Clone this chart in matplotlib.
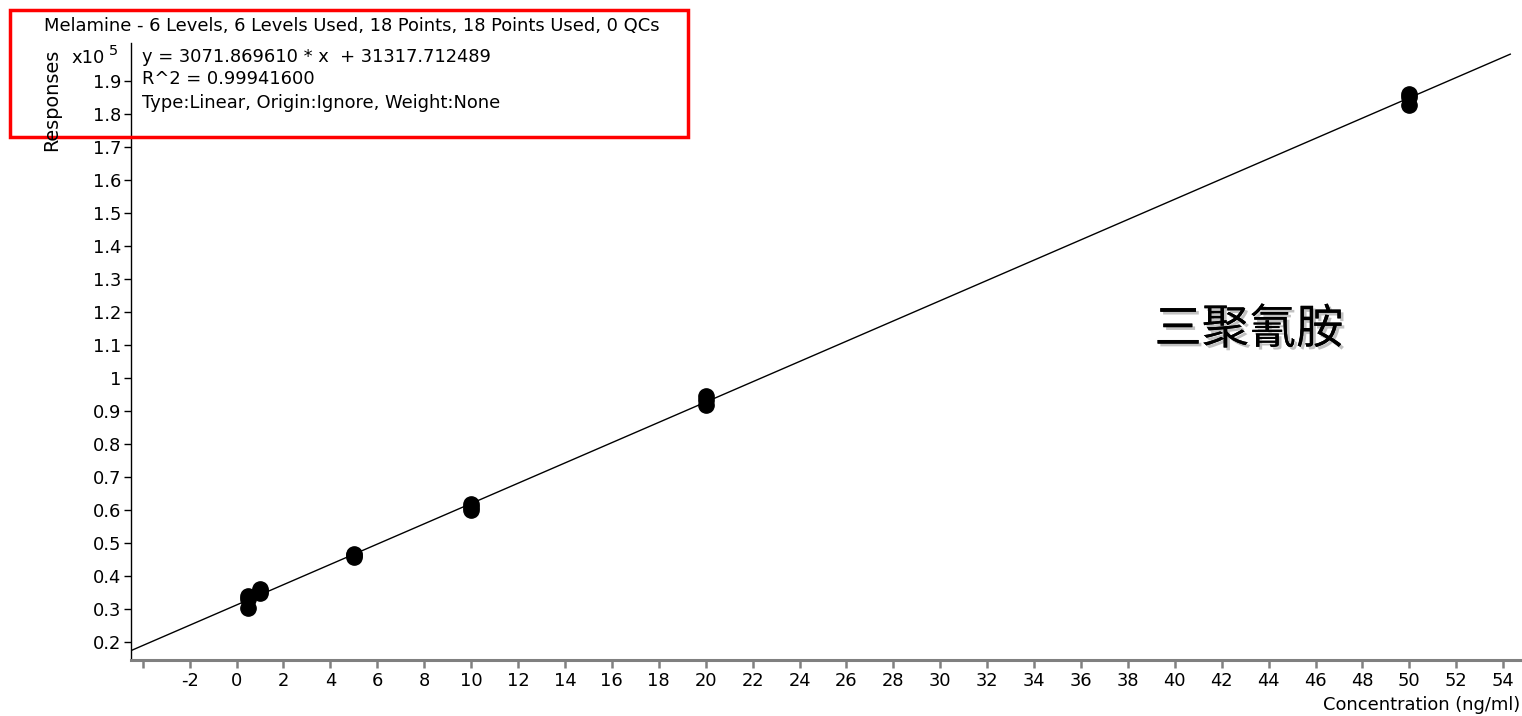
import numpy as np
import matplotlib
matplotlib.use('Agg')
import matplotlib.pyplot as plt
import matplotlib.patheffects as pe
from matplotlib.patches import Rectangle
from matplotlib.ticker import FuncFormatter

# dati (concentrazione in ng/ml, risposta)
conc = [0.5, 0.5, 0.5, 1, 1, 1, 5, 5, 5, 10, 10, 10, 20, 20, 20, 50, 50, 50]
resp = [30500, 33200, 33900, 35000, 35500, 36000,
        45800, 46300, 46700, 60000, 61000, 61800,
        91900, 93500, 94500, 182800, 185200, 186000]

slope = 3071.869610
intercept = 31317.712489
r2 = 0.99941600

x_ticks = list(range(-4, 55, 2))
y_ticks = [v / 10 * 1e5 for v in range(2, 20)]

W, H = 1522, 716
fs = 12.9
plt.rcParams['font.family'] = ['DejaVu Sans']
fig = plt.figure(figsize=(W / 100, H / 100), dpi=100)

ax = fig.add_axes([131 / W, 1 - 659.5 / H, (W - 131) / W, (659.5 - 43) / H])
ax.set_xlim(-4.5, 54.8)
ax.set_ylim(0.148e5, 2.015e5)

# retta di calibrazione
xl = np.array([-4.5, 54.3])
ax.plot(xl, slope * xl + intercept, color='black', lw=1)
ax.plot(conc, resp, 'o', color='black', ms=11, clip_on=False)

ax.set_xticks(x_ticks)
ax.set_xticklabels(['' if t == -4 else str(t) for t in x_ticks])
ax.set_yticks(y_ticks)
ax.yaxis.set_major_formatter(FuncFormatter(lambda v, p: f'{v / 1e5:g}'))

for s in ['top', 'right']:
    ax.spines[s].set_visible(False)
ax.spines['left'].set_linewidth(1)
ax.spines['bottom'].set_color('#808080')
ax.spines['bottom'].set_linewidth(2.2)
ax.tick_params(axis='x', colors='#808080', labelcolor='black', length=6, width=1.8,
               labelsize=fs, pad=3)
ax.tick_params(axis='y', length=5, width=1, labelsize=fs, pad=2)

def fx(px):
    return px / W

def fy(py):
    return 1 - py / H

fig.text(fx(1520), fy(705), 'Concentration (ng/ml)', ha='right', va='center', fontsize=fs)
fig.text(fx(52), fy(100), 'Responses', rotation=90, ha='center', va='center', fontsize=fs + 1)
fig.text(fx(71), fy(58), 'x10', ha='left', va='center', fontsize=fs)
fig.text(fx(109), fy(51), '5', ha='left', va='center', fontsize=fs - 2.5)

fig.text(fx(44), fy(26), 'Melamine - 6 Levels, 6 Levels Used, 18 Points, 18 Points Used, 0 QCs',
         ha='left', va='center', fontsize=fs)
fig.text(fx(142), fy(57), f'y = {slope:.6f} * x  + {intercept:.6f}', ha='left', va='center', fontsize=fs)
fig.text(fx(142), fy(79), f'R^2 = {r2:.8f}', ha='left', va='center', fontsize=fs)
fig.text(fx(142), fy(103), 'Type:Linear, Origin:Ignore, Weight:None', ha='left', va='center', fontsize=fs)

fig.patches.append(Rectangle((fx(10), fy(137)), fx(688) - fx(10), fy(10) - fy(137),
                             transform=fig.transFigure, fill=False, edgecolor='#ff0000', lw=2.5))

fig.text(fx(1249), fy(330), '三聚氰胺', ha='center', va='center', fontsize=34,
         family=['Noto Sans CJK SC', 'DejaVu Sans'], fontweight='medium',
         path_effects=[pe.withSimplePatchShadow(offset=(2, -2), shadow_rgbFace='#999999', alpha=0.6),
                       pe.Normal()])

fig.savefig('out.png', dpi=100)
